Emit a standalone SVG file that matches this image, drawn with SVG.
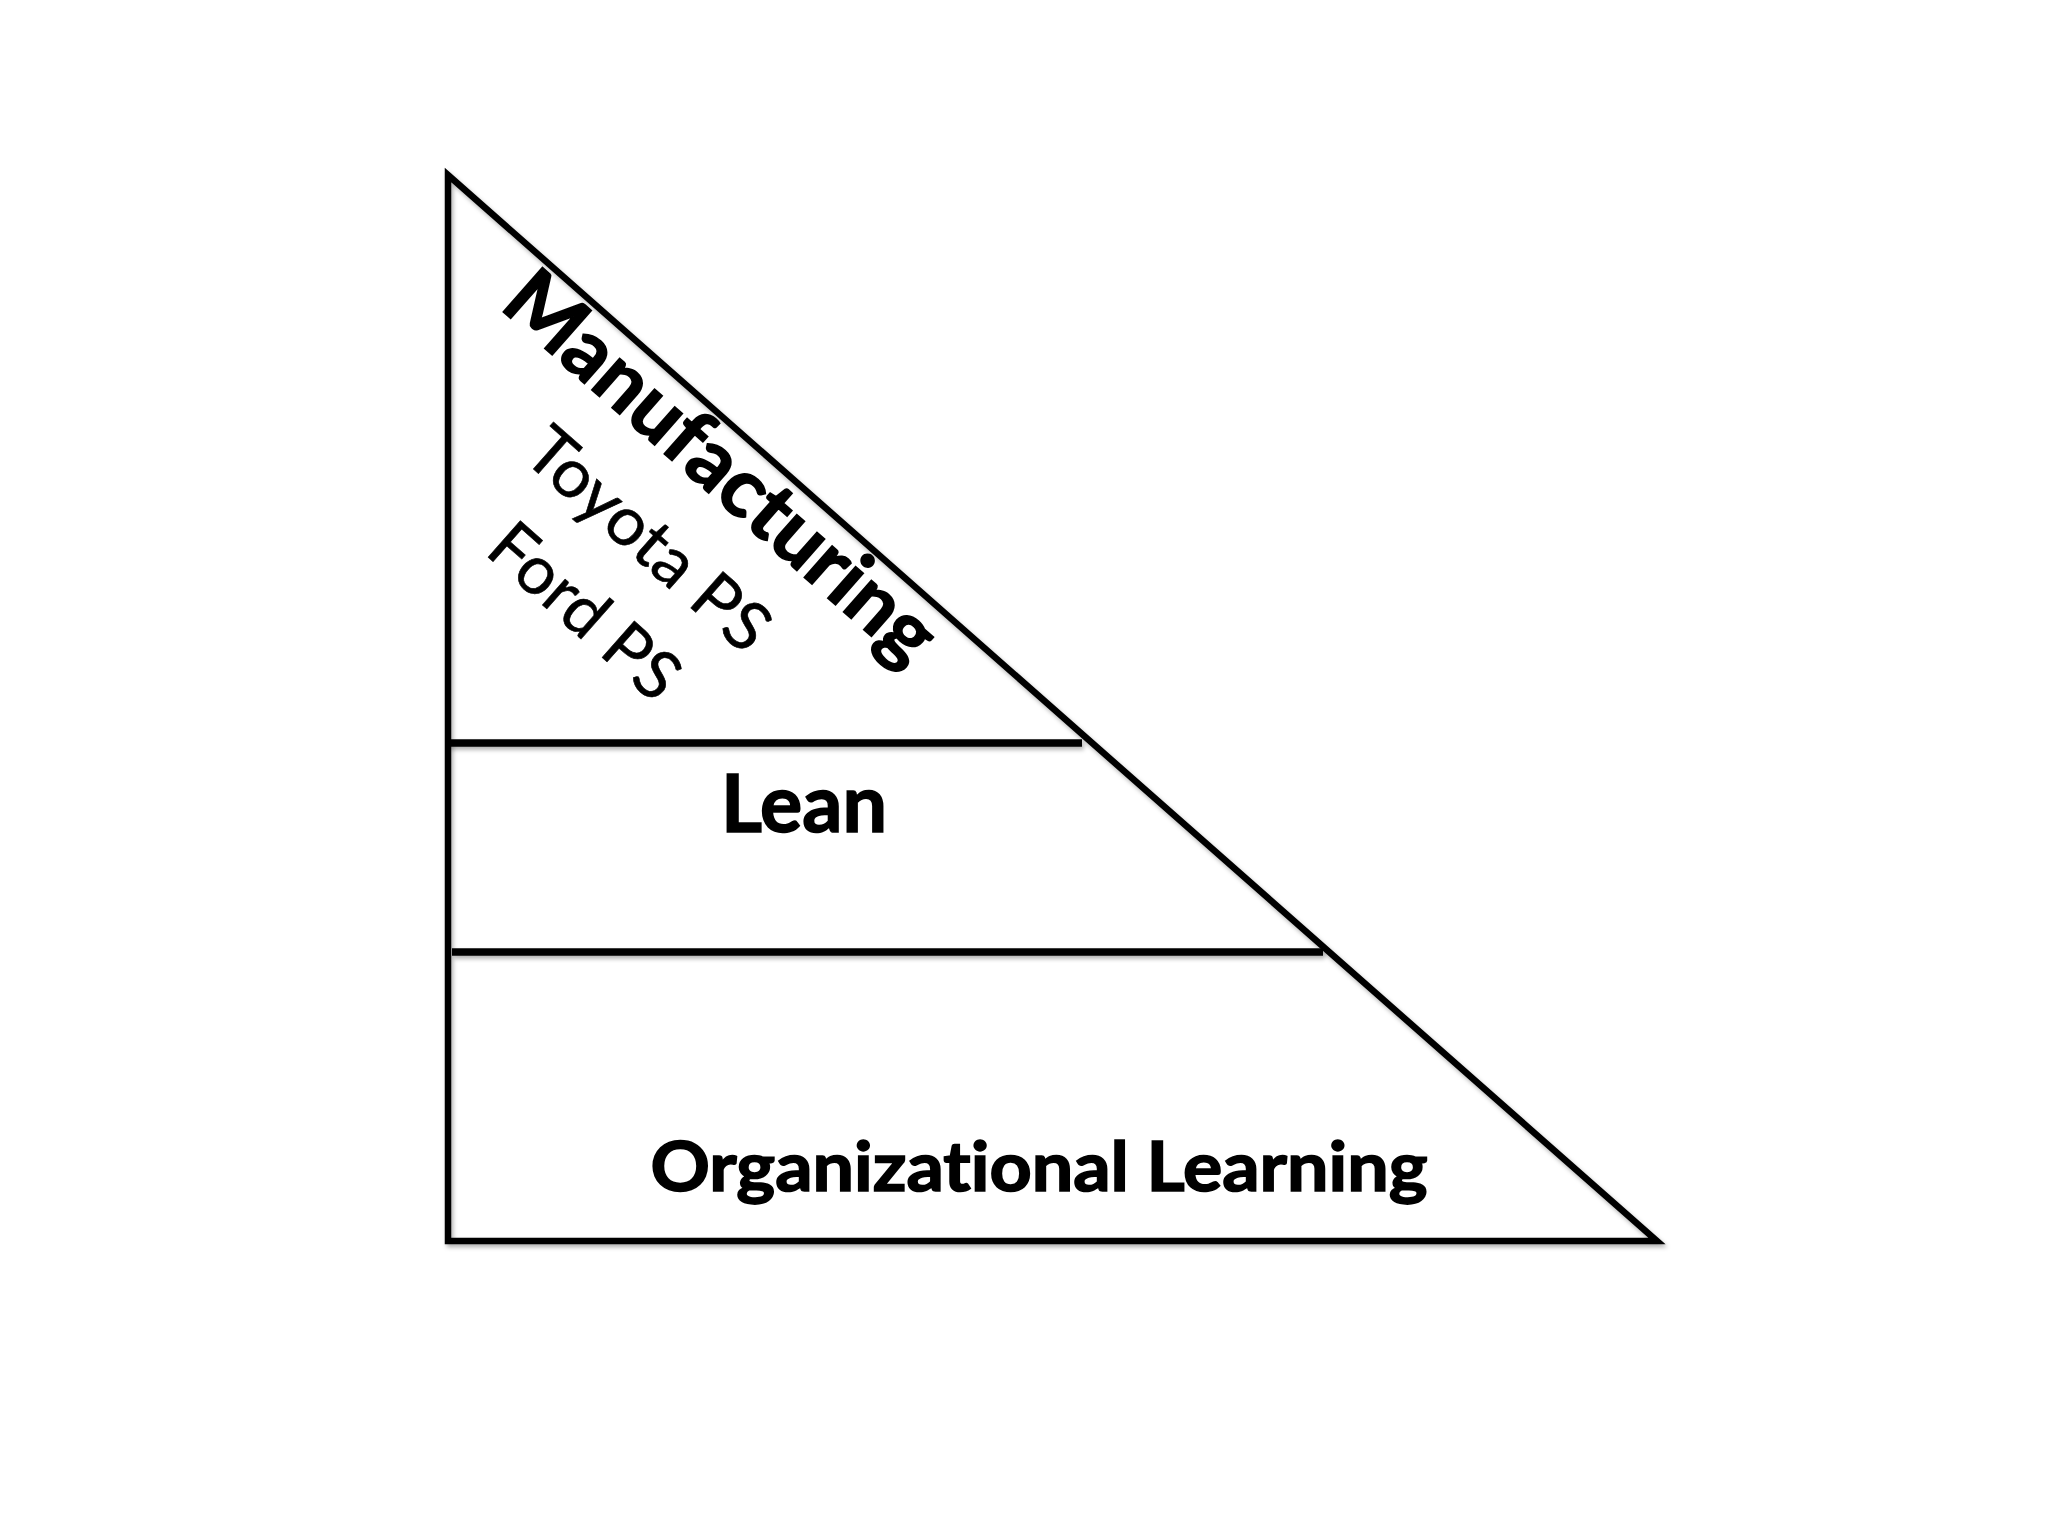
<svg xmlns="http://www.w3.org/2000/svg" width="2048" height="1536" viewBox="0 0 2048 1536">
  <defs>
    <filter id="shadow" x="-5%" y="-5%" width="110%" height="110%">
      <feDropShadow dx="2" dy="3" stdDeviation="2" flood-color="#000" flood-opacity="0.3"/>
    </filter>
  </defs>
  <style>
    .shape { fill: none; stroke: #000; stroke-linejoin: miter; }
    .tri { stroke-width: 6.5; }
    .div { stroke-width: 7.5; }
    text { font-family: Lato, "Liberation Sans", sans-serif; fill: #000; text-anchor: middle; font-variant-ligatures: none; font-feature-settings: "liga" 0, "dlig" 0; }
    .bold { font-weight: bold; stroke: #000; stroke-width: 1.6; }
    .reg { font-weight: normal; stroke: #000; stroke-width: 0.6; }
  </style>
  <rect width="2048" height="1536" fill="#fff"/>

  <g id="pyramid" filter="url(#shadow)">
    <path class="shape tri" d="M448,175 L1657,1241 L448,1241 Z"/>
  </g>

  <g id="dividers" filter="url(#shadow)">
    <line class="shape div" x1="448" y1="743" x2="1082" y2="743"/>
    <line class="shape div" x1="452" y1="952" x2="1323" y2="952"/>
  </g>

  <g id="manufacturing" transform="translate(703,488) rotate(41.4)">
    <text class="bold" x="0" y="0" font-size="82" textLength="546" lengthAdjust="spacingAndGlyphs">Manufacturing</text>
    <text class="reg" x="-7" y="98" font-size="68" textLength="300" lengthAdjust="spacingAndGlyphs">Toyota PS</text>
    <text class="reg" x="-7" y="194" font-size="68" textLength="229" lengthAdjust="spacingAndGlyphs">Ford PS</text>
  </g>

  <g id="lean">
    <text class="bold" x="804" y="832" font-size="80" textLength="166" lengthAdjust="spacingAndGlyphs">Lean</text>
  </g>

  <g id="organizational-learning">
    <text class="bold" x="1039" y="1191" font-size="68" textLength="777" lengthAdjust="spacingAndGlyphs">Organizational Learning</text>
  </g>
</svg>
